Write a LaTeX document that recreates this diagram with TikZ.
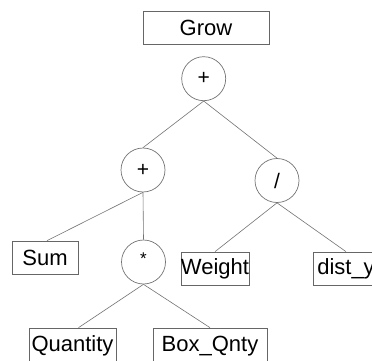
\documentclass[tikz,border=0pt]{standalone}
\usepackage{fontspec}
\setmainfont{Liberation Sans}
\begin{document}
\begin{tikzpicture}[x=1pt,y=-1pt,
  leaf/.style={draw=black!60, line width=0.7pt, rectangle, minimum height=33pt, inner sep=0pt, font=\fontsize{22}{24}\selectfont},
  op/.style={draw=black!55, line width=0.7pt, circle, minimum size=44pt, inner sep=0pt, font=\fontsize{21}{24}\selectfont},
  edge/.style={draw=black!55, line width=0.6pt}]
\useasboundingbox (0,0) rectangle (372,361);
\clip (0,0) rectangle (372,361);
\node[leaf, minimum width=126pt] (grow) at (206,27.5) {Grow};
\node[op] (root) at (203.7,78.7) {+};
\node[op] (plus) at (143,170) {+};
\node[op] (div) at (277,180.5) {/};
\node[op] (mul) at (143.5,262) {\raisebox{7pt}{\fontsize{17}{20}\selectfont *}};
\node[leaf, minimum width=66pt] (sum) at (45,257.5) {Sum};
\node[leaf, minimum width=66pt] (weight) at (215,268.5) {Weight};
\node[leaf, minimum width=66pt] (dist) at (346,268.5) {dist\_y};
\node[leaf, minimum width=87pt, minimum height=36pt] (qty) at (72.5,346) {\raisebox{1.5pt}{Quantity}};
\node[leaf, minimum width=114pt, minimum height=36pt] (box) at (210,346) {\raisebox{1.5pt}{Box\_Qnty}};
\draw[edge] (root.south) -- (plus.north);
\draw[edge] (root.south) -- (div.north);
\draw[edge] (plus.south) -- ([xshift=2pt]sum.north);
\draw[edge] (plus.south) -- (mul.north);
\draw[edge] (div.south) -- (weight.north);
\draw[edge] (div.south) -- (dist.north);
\draw[edge] (mul.south) -- ([xshift=6pt]qty.north);
\draw[edge] (mul.south) -- (box.north);
\end{tikzpicture}
\end{document}
